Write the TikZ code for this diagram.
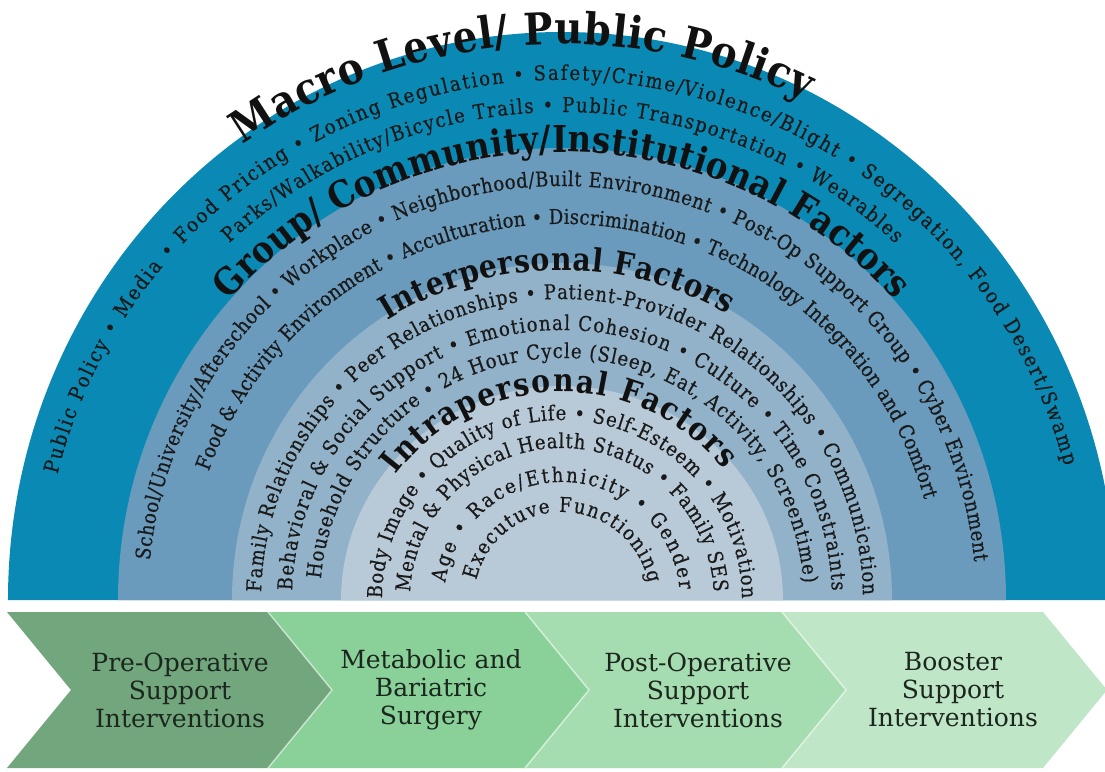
\documentclass[tikz,border=0pt]{standalone}
\usepackage{fontspec}
\setmainfont{DejaVu Serif}
\newfontfamily\ringfont[FakeStretch=0.88]{DejaVu Serif}
\newfontfamily\ringsmall[FakeStretch=0.88, FakeBold=0.4]{DejaVu Serif}
\usetikzlibrary{decorations.text}

\definecolor{macroblue}{HTML}{0A89B4}
\definecolor{groupblue}{HTML}{6A9BBD}
\definecolor{interblue}{HTML}{91B2C9}
\definecolor{intrablue}{HTML}{B8C9D7}
\definecolor{chevA}{HTML}{72A67C}
\definecolor{chevB}{HTML}{89D198}
\definecolor{chevC}{HTML}{A5DCB0}
\definecolor{chevD}{HTML}{BEE6C7}
\definecolor{inktext}{HTML}{1A1A1A}
\definecolor{titleink}{HTML}{111111}
\definecolor{chevink}{HTML}{1C261F}

% text set along a circular arc: radius, start angle, end angle, format, text
\newcommand\ringtext[5]{%
  \path[decorate, decoration={text along path, text align={fit to path}, text={|#4|#5}}]
    (#2:#1pt) arc[start angle=#2, end angle=#3, radius=#1pt];}

\newcommand\smallfmt{\ringsmall\fontsize{20.5}{22}\selectfont\color{inktext}}
\newcommand\titlefmt[1]{\ringfont\fontsize{#1}{#1}\selectfont\bfseries\color{titleink}}

\begin{document}
\begin{tikzpicture}[x=1pt,y=1pt,
  stagetext/.style={align=center, text=chevink, font=\fontsize{25}{28}\selectfont, inner sep=0pt},
  tipline/.style={white, opacity=0.6, line width=1.4pt}]
\clip (-562,-171) rectangle (543,600);
\fill[white] (-562,-171) rectangle (543,600);

% nested levels of influence
\fill[macroblue] (-554,0) arc[start angle=180, end angle=0, x radius=554pt, y radius=568pt] -- cycle;
\fill[groupblue] (-444,0) arc[start angle=180, end angle=0, x radius=444pt, y radius=452pt] -- cycle;
\fill[interblue] (-330,0) arc[start angle=180, end angle=0, x radius=330pt, y radius=337pt] -- cycle;
\fill[intrablue] (-221,0) arc[start angle=180, end angle=0, x radius=221pt, y radius=214pt] -- cycle;

% macro level
\ringtext{556}{125}{64}{\titlefmt{44}}{Macro Level/ Public Policy}
\ringtext{520}{166}{15}{\smallfmt}{Public Policy • Media • Food Pricing • Zoning Regulation • Safety/Crime/Violence/Blight • Segregation, Food Desert/Swamp}
\ringtext{488}{133}{47}{\smallfmt}{Parks/Walkability/Bicycle Trails • Public Transportation • Wearables}

% group / community / institutional
\ringtext{448}{138}{42}{\titlefmt{37}}{Group/ Community/Institutional Factors}
\ringtext{414}{174.5}{5.5}{\smallfmt}{School/University/Afterschool • Workplace • Neighborhood/Built Environment • Post-Op Support Group • Cyber Environment}
\ringtext{376}{160}{15.5}{\smallfmt}{Food {\&} Activity Environment • Acculturation • Discrimination • Technology Integration and Comfort}

% interpersonal
\ringtext{330}{122}{60}{\titlefmt{32}}{Interpersonal Factors}
\ringtext{301}{178.5}{1}{\smallfmt}{Family Relationships • Peer Relationships • Patient-Provider Relationships • Communication}
\ringtext{270}{178}{2}{\smallfmt}{Behavioral {\&} Social Support • Emotional Cohesion • Culture • Time Constraints}
\ringtext{242}{175}{4}{\smallfmt}{Household Structure • 24 Hour Cycle (Sleep, Eat, Activity, Screentime)}

% intrapersonal
\ringtext{208}{143}{39}{\titlefmt{32}}{Intrapersonal Factors}
\ringtext{180}{179.5}{0.5}{\smallfmt}{Body Image • Quality of Life • Self-Esteem • Motivation}
\ringtext{152}{177}{3}{\smallfmt}{Mental {\&} Physical Health Status • Family SES}
\ringtext{118}{171.5}{5}{\smallfmt}{Age • Race/Ethnicity • Gender}
\ringtext{88}{167}{11}{\smallfmt}{Executuve Functioning}

% treatment stages
\fill[chevD] (220,-12) -- (481,-12) -- (545,-90) -- (481,-168) -- (220,-168) -- (284,-90) -- cycle;
\fill[chevC] (-37,-12) -- (220,-12) -- (284,-90) -- (220,-168) -- (-37,-168) -- (27,-90) -- cycle;
\fill[chevB] (-294,-12) -- (-37,-12) -- (27,-90) -- (-37,-168) -- (-294,-168) -- (-230,-90) -- cycle;
\fill[chevA] (-555,-12) -- (-294,-12) -- (-230,-90) -- (-294,-168) -- (-555,-168) -- (-491,-90) -- cycle;
\draw[tipline] (-294,-12) -- (-230,-90) -- (-294,-168);
\draw[tipline] (-37,-12) -- (27,-90) -- (-37,-168);
\draw[tipline] (220,-12) -- (284,-90) -- (220,-168);

\node[stagetext] (pre)     at (-382,-90) {Pre-Operative\\Support\\Interventions};
\node[stagetext] (surgery) at (-131,-90) {Metabolic and\\Bariatric\\Surgery};
\node[stagetext] (post)    at (136,-90)  {Post-Operative\\Support\\Interventions};
\node[stagetext] (booster) at (391,-90)  {Booster\\Support\\Interventions};
\end{tikzpicture}
\end{document}
